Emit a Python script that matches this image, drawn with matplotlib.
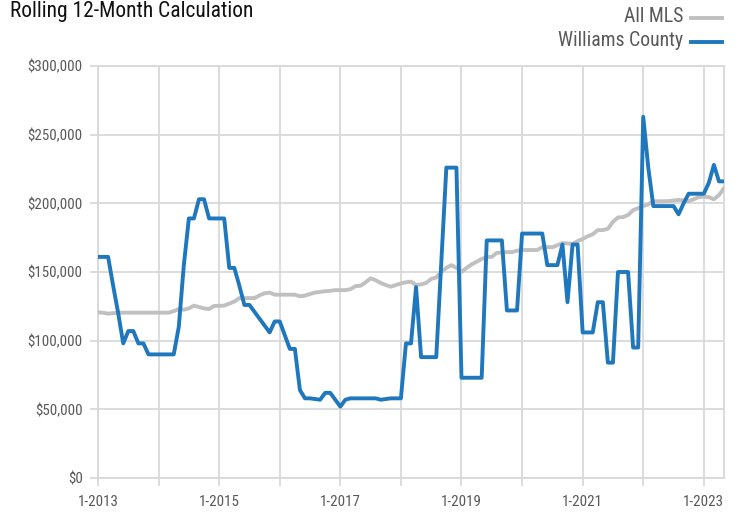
import matplotlib
matplotlib.use('Agg')
import matplotlib.pyplot as plt
from matplotlib import font_manager
from matplotlib.lines import Line2D
import numpy as np

# 월별 데이터 (1-2013 ~ 5-2023)
all_mls = [
    120.6, 120.3, 119.7, 120.0, 120.3, 120.4, 120.4, 120.4, 120.4, 120.4,
    120.4, 120.4, 120.4, 120.4, 120.4, 121.5, 123.0, 122.5, 123.5, 125.5,
    124.5, 123.5, 123.0, 125.3, 125.4, 125.5, 127.0, 128.5, 131.0, 131.0,
    131.0, 131.0, 133.0, 134.5, 135.0, 133.5, 133.5, 133.5, 133.5, 133.5,
    132.3, 132.8, 134.0, 135.0, 135.5, 136.0, 136.3, 136.8, 136.8, 136.8,
    137.5, 139.7, 140.0, 142.5, 145.4, 144.0, 142.0, 140.5, 139.3, 140.5,
    141.7, 142.5, 143.0, 140.5, 141.0, 142.0, 145.0, 146.0, 150.0, 153.0,
    155.0, 153.0, 150.0, 153.0, 155.5, 157.5, 159.5, 161.0, 161.0, 164.0,
    164.0, 164.5, 164.5, 165.5, 166.0, 166.0, 166.0, 166.0, 168.0, 168.2,
    168.0, 169.5, 171.0, 170.8, 170.5, 172.5, 174.0, 176.0, 177.5, 180.5,
    180.5, 181.5, 186.5, 189.7, 190.0, 191.5, 195.0, 196.5, 198.0, 199.3,
    201.5, 201.5, 201.5, 201.6, 202.0, 202.5, 202.0, 201.6, 203.0, 204.5,
    205.0, 204.5, 203.0, 206.0, 211.0,
]
williams = [
    161, 161, 161, 140, 120, 98, 107, 107, 98, 98,
    90, 90, 90, 90, 90, 90, 110, 155, 189, 189,
    203, 203, 189, 189, 189, 189, 153, 153, 140, 126,
    126, 121, 116, 111, 106, 114, 114, 104, 94, 94,
    64, 58, 58, 57.5, 57, 62, 62, 57, 52, 57,
    58, 58, 58, 58, 58, 58, 57, 57.5, 58, 58,
    58, 98, 98, 139, 88, 88, 88, 88, 157, 226,
    226, 226, 73, 73, 73, 73, 73, 173, 173, 173,
    173, 122, 122, 122, 178, 178, 178, 178, 178, 155,
    155, 155, 170, 128, 170, 170, 106, 106, 106, 128,
    128, 84, 84, 150, 150, 150, 95, 95, 263, 226,
    198, 198, 198, 198, 198, 192, 200, 207, 207, 207,
    207, 215, 228, 216, 216,
]
all_mls = np.array(all_mls) * 1000
williams = np.array(williams) * 1000
months = np.arange(len(williams))

year_ticks = np.arange(0, 121, 12)
year_labels = ['1-%d' % (2013 + t // 12) if (t // 12) % 2 == 0 else '' for t in year_ticks]
y_ticks = [0, 50000, 100000, 150000, 200000, 250000, 300000]
y_labels = ['$0', '$50,000', '$100,000', '$150,000', '$200,000', '$250,000', '$300,000']

# 좁은 글꼴이 있으면 사용
names = {f.name for f in font_manager.fontManager.ttflist}
scale = 1.0
stretch = 'normal'
if 'Liberation Sans Narrow' in names:
    fam = 'Liberation Sans Narrow'
elif 'Roboto Condensed' in names:
    fam = 'Roboto Condensed'
elif any(f.name == 'DejaVu Sans' and f.stretch == 'condensed' for f in font_manager.fontManager.ttflist):
    fam = 'DejaVu Sans'
    stretch = 'condensed'
    scale = 0.92
else:
    fam = 'Liberation Sans'
    scale = 0.86
plt.rcParams['font.family'] = [fam, 'DejaVu Sans']
plt.rcParams['font.stretch'] = stretch

grid_c = '#d9d9d9'
text_c = '#595959'
blue = '#1f77bd'
gray = '#c0c0c0'

fig = plt.figure(figsize=(7.4, 5.12), dpi=100)
ax = fig.add_axes([98 / 740, 1 - 478 / 512, (724 - 98) / 740, (478 - 66) / 512])

ax.plot(months, all_mls, color=gray, lw=2.8, solid_joinstyle='round', zorder=3)
ax.plot(months, williams, color=blue, lw=2.8, solid_joinstyle='round', zorder=4)

ax.set_xlim(0, len(months) - 1)
ax.set_ylim(0, 300000)
ax.set_xticks(year_ticks)
ax.set_xticklabels(year_labels)
ax.set_yticks(y_ticks)
ax.set_yticklabels(y_labels)

ax.grid(True, color=grid_c, lw=1.3)
ax.set_axisbelow(True)
for s in ax.spines.values():
    s.set_color(grid_c)
    s.set_linewidth(1.3)
ax.tick_params(axis='both', colors=grid_c, length=6, width=1.3,
               labelsize=10.8 * scale, labelcolor=text_c)
ax.tick_params(axis='x', pad=6)
ax.tick_params(axis='y', pad=5)

fig.text(10 / 740, 1 - 11 / 512, 'Rolling 12-Month Calculation', fontsize=15.5 * scale,
         color='#111111', va='center', ha='left')

# 범례
for label, c, yy in [('All MLS', gray, 17), ('Williams County', blue, 41)]:
    fig.text(683 / 740, 1 - yy / 512, label, fontsize=14.2 * scale, color=text_c,
             ha='right', va='center')
    fig.add_artist(Line2D([691 / 740, 722 / 740], [1 - (yy + 1) / 512] * 2,
                          color=c, lw=2.8, transform=fig.transFigure))

fig.savefig('out.png', dpi=100)
